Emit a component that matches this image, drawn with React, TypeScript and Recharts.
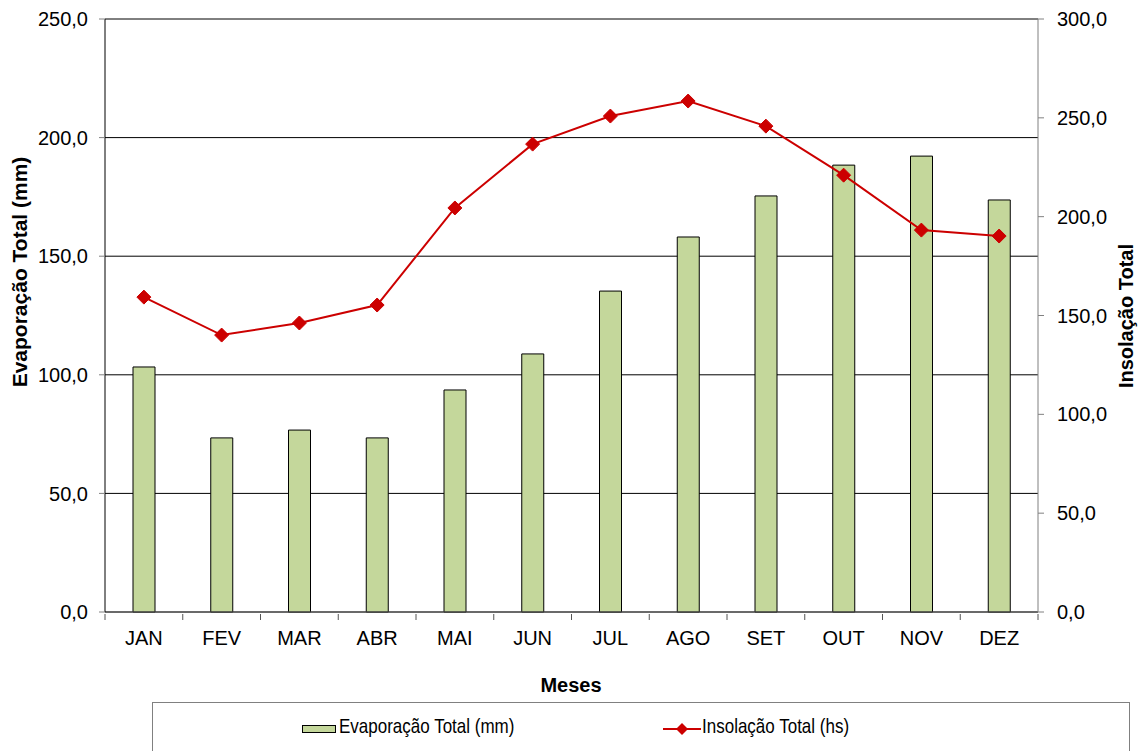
import React from 'react';
import { ComposedChart, Bar, Line, XAxis, YAxis, CartesianGrid } from 'recharts';

const months = ['JAN', 'FEV', 'MAR', 'ABR', 'MAI', 'JUN', 'JUL', 'AGO', 'SET', 'OUT', 'NOV', 'DEZ'];
const evaporacao = [103.3, 73.4, 76.7, 73.4, 93.6, 108.8, 135.3, 158.1, 175.4, 188.4, 192.2, 173.7];
const insolacao = [159.3, 140.1, 146.2, 155.3, 204.4, 236.7, 250.9, 258.5, 245.8, 221.0, 193.2, 190.2];
const leftTicks = [0, 50, 100, 150, 200, 250];
const rightTicks = [0, 50, 100, 150, 200, 250, 300];

const data = months.map((m, i) => ({ month: m, evap: evaporacao[i], insol: insolacao[i] }));

const FONT = '"Liberation Sans", Arial, sans-serif';
const PLOT_LEFT = 105;
const PLOT_RIGHT = 1038;
const BAND = (PLOT_RIGHT - PLOT_LEFT) / months.length;

const fmt = (v: number) => v.toFixed(1).replace('.', ',');

function MonthTick(props: any) {
  const { x, y, payload, index } = props;
  const half = BAND / 2;
  return (
    <g>
      <line x1={x - half} x2={x - half} y1={y} y2={y + 6} stroke="#555" />
      {index === months.length - 1 && <line x1={x + half} x2={x + half} y1={y} y2={y + 6} stroke="#555" />}
      <text x={x} y={y + 31} textAnchor="middle" fontSize={20} fontFamily={FONT} fill="#000">
        {payload.value}
      </text>
    </g>
  );
}

function Diamond(props: any) {
  const { cx, cy } = props;
  if (cx == null || cy == null) return null;
  const r = 7;
  return (
    <polygon
      points={`${cx},${cy - r} ${cx + r},${cy} ${cx},${cy + r} ${cx - r},${cy}`}
      fill="#CC0000"
      stroke="#CC0000"
    />
  );
}

export default function App() {
  return (
    <div style={{ position: 'absolute', left: 0, top: 0, width: 1138, height: 751, background: '#fff', fontFamily: FONT, overflow: 'hidden' }}>
      <ComposedChart
        width={1138}
        height={751}
        data={data}
        margin={{ top: 19, right: 40, left: 20, bottom: 99 }}
        barCategoryGap={0}
      >
        <CartesianGrid yAxisId="left" vertical={false} stroke="#000" strokeWidth={1} />
        <XAxis
          dataKey="month"
          height={40}
          tick={<MonthTick />}
          tickLine={false}
          tickSize={0}
          axisLine={{ stroke: '#555' }}
          interval={0}
        />
        <YAxis
          yAxisId="left"
          width={85}
          domain={[0, 250]}
          ticks={leftTicks}
          tickFormatter={fmt}
          tick={{ fontSize: 20, fill: '#000', fontFamily: FONT }}
          tickLine={{ stroke: '#808080' }}
          tickSize={6}
          tickMargin={11}
          axisLine={{ stroke: '#000' }}
        />
        <YAxis
          yAxisId="right"
          orientation="right"
          width={60}
          domain={[0, 300]}
          ticks={rightTicks}
          tickFormatter={fmt}
          tick={{ fontSize: 20, fill: '#000', fontFamily: FONT }}
          tickLine={{ stroke: '#808080' }}
          tickSize={6}
          tickMargin={13}
          axisLine={{ stroke: '#808080' }}
        />
        <Bar
          yAxisId="left"
          dataKey="evap"
          barSize={22}
          fill="#C4D79B"
          stroke="#000"
          strokeWidth={1}
          isAnimationActive={false}
        />
        <Line
          yAxisId="right"
          dataKey="insol"
          type="linear"
          stroke="#CC0000"
          strokeWidth={2}
          dot={<Diamond />}
          activeDot={false}
          isAnimationActive={false}
        />
      </ComposedChart>

      <div
        style={{
          position: 'absolute',
          left: 20,
          top: 272,
          transform: 'translate(-50%, -50%) rotate(-90deg)',
          fontSize: 21,
          fontWeight: 'bold',
          whiteSpace: 'nowrap',
        }}
      >
        Evaporação Total (mm)
      </div>
      <div
        style={{
          position: 'absolute',
          left: 1126,
          top: 316,
          transform: 'translate(-50%, -50%) rotate(-90deg)',
          fontSize: 20,
          fontWeight: 'bold',
          whiteSpace: 'nowrap',
        }}
      >
        Insolação Total
      </div>
      <div
        style={{
          position: 'absolute',
          left: 571,
          top: 685,
          transform: 'translate(-50%, -50%)',
          fontSize: 20,
          fontWeight: 'bold',
        }}
      >
        Meses
      </div>

      <div
        style={{
          position: 'absolute',
          left: 152,
          top: 702,
          width: 978,
          height: 60,
          border: '1px solid #808080',
          boxSizing: 'border-box',
        }}
      >
        <div style={{ position: 'absolute', left: 149, top: 22, width: 34, height: 8, background: '#C4D79B', border: '1px solid #000', boxSizing: 'border-box' }} />
        <div style={{ position: 'absolute', left: 186, top: 14, fontSize: 17, whiteSpace: 'nowrap', transform: 'scaleY(1.15)' }}>Evaporação Total (mm)</div>
        <svg style={{ position: 'absolute', left: 510, top: 18 }} width={38} height={16}>
          <line x1={0} x2={38} y1={8} y2={8} stroke="#CC0000" strokeWidth={2} />
          <polygon points="19,2 25,8 19,14 13,8" fill="#CC0000" />
        </svg>
        <div style={{ position: 'absolute', left: 549, top: 14, fontSize: 17, whiteSpace: 'nowrap', transform: 'scaleY(1.15)' }}>Insolação Total (hs)</div>
      </div>
    </div>
  );
}
